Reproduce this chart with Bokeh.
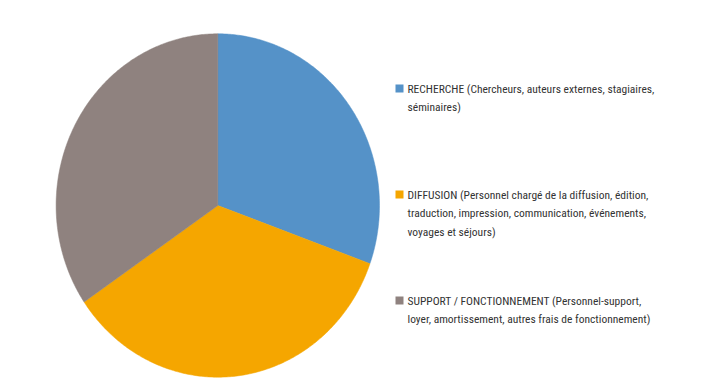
import numpy as np
from bokeh.plotting import figure
from bokeh.models import Range1d, ColumnDataSource
from bokeh.core.properties import value
from bokeh.embed import file_html
from bokeh.resources import INLINE

# ---- data ----
categories = ["RECHERCHE", "DIFFUSION", "SUPPORT / FONCTIONNEMENT"]
shares = [30.5, 35.0, 34.5]
colors = ["#5592C8", "#F5A600", "#8F827F"]
labels = [
    "RECHERCHE (Chercheurs, auteurs externes, stagiaires,\nséminaires)",
    "DIFFUSION (Personnel chargé de la diffusion, édition,\ntraduction, impression, communication, événements,\nvoyages et séjours)",
    "SUPPORT / FONCTIONNEMENT (Personnel-support,\nloyer, amortissement, autres frais de fonctionnement)",
]

W, H = 702, 388
p = figure(width=W, height=H, output_backend="svg", toolbar_location=None,
           x_range=Range1d(0, W), y_range=Range1d(H, 0), min_border=0)
p.axis.visible = False
p.grid.visible = False
p.outline_line_color = None
p.background_fill_color = "white"

# pie geometry (screen-like units)
cx, cy, rx, ry = 217.3, 205.0, 161.7, 171.7
total = float(sum(shares))
cum = np.concatenate([[0.0], np.cumsum(shares) / total])
xs, ys = [], []
for i in range(len(shares)):
    t = np.linspace(cum[i], cum[i + 1], 200)
    ang = np.pi / 2 - 2 * np.pi * t
    xs.append([cx] + list(cx + rx * np.cos(ang)) + [cx])
    ys.append([cy] + list(cy - ry * np.sin(ang)) + [cy])
p.patches(xs=xs, ys=ys, fill_color=colors, line_color=colors, line_width=0.5)

# legend
lx, ly0, lstep = 399.0, 88.0, 106.0
ly = [ly0 + i * lstep for i in range(len(categories))]
p.scatter(x=[lx] * len(ly), y=ly, marker="square", size=8, fill_color=colors, line_color=None)
src = ColumnDataSource(dict(x=[lx + 8] * len(ly), y=[v - 7 for v in ly], text=labels))
p.text(x="x", y="y", text="text", source=src, text_font=value("Roboto Condensed"),
       text_font_size="11.5px", text_color="#333333", text_baseline="top",
       text_align="left", text_line_height=1.35)

open("out.html", "w").write(file_html(p, INLINE))
